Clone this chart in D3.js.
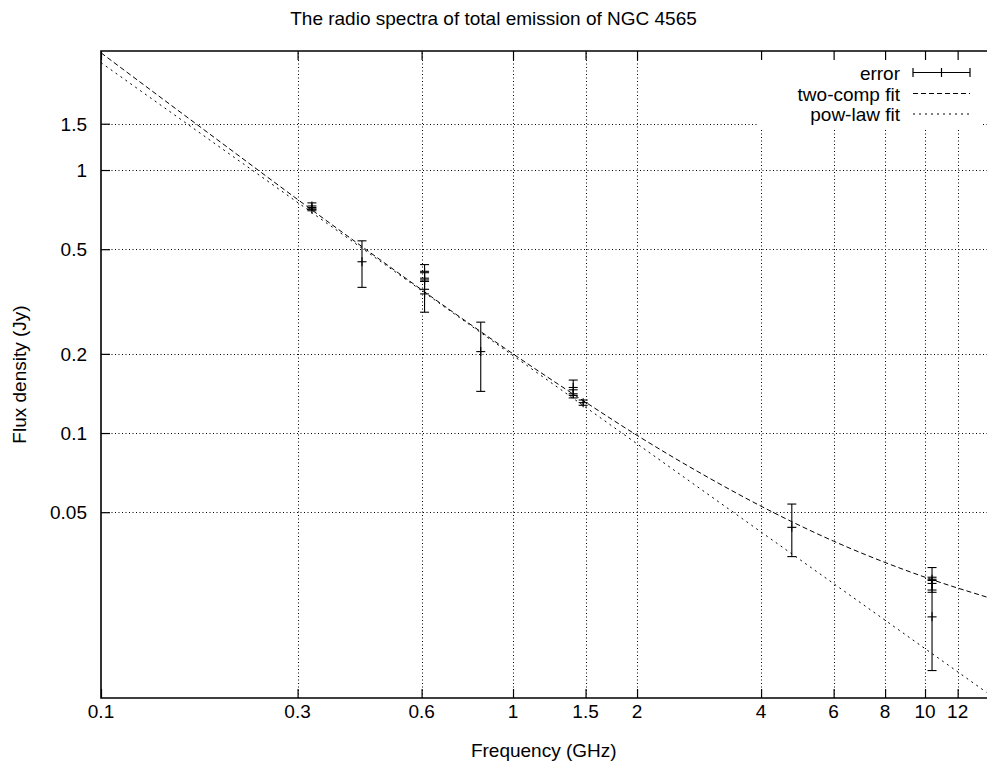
<!DOCTYPE html>
<html>
<head>
<meta charset="utf-8">
<script src="https://cdn.jsdelivr.net/npm/d3@7"></script>
<style>
  html, body { margin: 0; padding: 0; background: #fff; }
  svg { display: block; font-family: "Liberation Sans", Arial, Helvetica, sans-serif; }
</style>
</head>
<body>
<svg id="chart" width="987" height="768"></svg>
<script>
// ---- data ----
const title = "The radio spectra of total emission of NGC 4565";
const xLabel = "Frequency (GHz)";
const yLabel = "Flux density (Jy)";

const xTicks = [0.1, 0.3, 0.6, 1, 1.5, 2, 4, 6, 8, 10, 12];
const xTickLabels = ["0.1", "0.3", "0.6", "1", "1.5", "2", "4", "6", "8", "10", "12"];
const yTicks = [1.5, 1, 0.5, 0.2, 0.1, 0.05];
const yTickLabels = ["1.5", "1", "0.5", "0.2", "0.1", "0.05"];

// measured points with errors
const obsFreq = [0.325, 0.325, 0.43, 0.61, 0.61, 0.61, 0.835, 1.40, 1.40, 1.48, 4.75, 10.4, 10.4, 10.4];
const obsFlux = [0.73, 0.71, 0.448, 0.407, 0.382, 0.338, 0.204, 0.149, 0.141, 0.1305, 0.0438, 0.0278, 0.0268, 0.020];
const obsErr  = [0.02, 0.01, 0.09, 0.03, 0.03, 0.05, 0.06, 0.01, 0.005, 0.003, 0.0099, 0.003, 0.0015, 0.0075];

// two-component fit curve
const twoCompFreq = [0.1, 0.2, 0.3, 0.5, 0.7, 1, 1.5, 2, 3, 4, 6, 8, 10, 14.1];
const twoCompFlux = [2.79, 1.24, 0.773, 0.431, 0.295, 0.2, 0.131, 0.098, 0.0673, 0.0527, 0.0388, 0.0322, 0.0283, 0.0238];

// power-law fit (straight line in log-log, read at ends and middle)
const powFreq = [0.1, 1, 14.1];
const powFlux = [2.56, 0.197, 0.01033];

const legendLabels = ["error", "two-comp fit", "pow-law fit"];

// ---- layout ----
const svg = d3.select("#chart");
const L = 101, T = 51, B = 698, R = 986.5;
const FS = 19;

const x = d3.scaleLog().domain([0.1, 14.1]).range([L, R]);
const y = d3.scaleLog().domain([0.00983, 2.835]).range([B, T]);

// clip
svg.append("defs").append("clipPath").attr("id", "plotclip")
  .append("rect").attr("x", L).attr("y", T).attr("width", 987 - L).attr("height", B - T);

// grid
const grid = svg.append("g").attr("stroke", "#000").attr("stroke-width", 1)
  .attr("stroke-dasharray", "1,2.5").attr("fill", "none");
xTicks.filter(v => v > 0.1).forEach(v => {
  grid.append("line").attr("x1", Math.round(x(v)) + 0.5).attr("x2", Math.round(x(v)) + 0.5)
    .attr("y1", B).attr("y2", T);
});
yTicks.forEach(v => {
  grid.append("line").attr("y1", Math.round(y(v)) + 0.5).attr("y2", Math.round(y(v)) + 0.5)
    .attr("x1", L).attr("x2", 987);
});

// legend box area erases grid
svg.append("rect").attr("x", 757).attr("y", T + 2).attr("width", 226).attr("height", 75)
  .attr("fill", "#fff");

// axes ticks via d3 axes (inward ticks, labels separate)
const axisBottom = d3.axisBottom(x).tickValues(xTicks).tickSize(-9).tickFormat("");
const axisTop = d3.axisTop(x).tickValues(xTicks).tickSize(-9).tickFormat("");
const axisLeft = d3.axisLeft(y).tickValues(yTicks).tickSize(-9).tickFormat("");
const gb = svg.append("g").attr("transform", `translate(0,${B})`).call(axisBottom);
const gt = svg.append("g").attr("transform", `translate(0,${T})`).call(axisTop);
const gl = svg.append("g").attr("transform", `translate(${L},0)`).call(axisLeft);
[gb, gt, gl].forEach(g => {
  g.select(".domain").remove();
  g.selectAll(".tick line").attr("stroke", "#000").attr("stroke-width", 1.2);
});

// tick labels
svg.append("g").selectAll("text").data(xTicks).join("text")
  .attr("x", d => x(d)).attr("y", B + 20)
  .attr("text-anchor", "middle").attr("font-size", FS)
  .text((d, i) => xTickLabels[i]);
svg.append("g").selectAll("text").data(yTicks).join("text")
  .attr("x", L - 14).attr("y", d => y(d) + 7)
  .attr("text-anchor", "end").attr("font-size", FS)
  .text((d, i) => yTickLabels[i]);

// frame
svg.append("path")
  .attr("d", `M${R + 10},${T}H${L}V${B}H${R + 10}`)
  .attr("fill", "none").attr("stroke", "#000").attr("stroke-width", 1.6);

// curves
const plot = svg.append("g").attr("clip-path", "url(#plotclip)");
const twoData = twoCompFreq.map((f, i) => [f, twoCompFlux[i]]);
const powData = powFreq.map((f, i) => [f, powFlux[i]]);
const lineMono = d3.line().x(d => x(d[0])).y(d => y(d[1])).curve(d3.curveMonotoneX);
const lineLin = d3.line().x(d => x(d[0])).y(d => y(d[1]));
plot.append("path").attr("d", lineMono(twoData)).attr("fill", "none")
  .attr("stroke", "#000").attr("stroke-width", 1).attr("stroke-dasharray", "5,3");
plot.append("path").attr("d", lineLin(powData)).attr("fill", "none")
  .attr("stroke", "#000").attr("stroke-width", 1).attr("stroke-dasharray", "2,4");

// error bars
const obs = obsFreq.map((f, i) => ({ f, s: obsFlux[i], e: obsErr[i] }));
const eb = plot.append("g").attr("stroke", "#000").attr("stroke-width", 1.1);
const cap = 4.5;
obs.forEach(d => {
  const cx = x(d.f);
  const y1 = y(d.s + d.e), y0 = y(d.s - d.e), yc = y(d.s);
  eb.append("line").attr("x1", cx).attr("x2", cx).attr("y1", y1).attr("y2", y0);
  eb.append("line").attr("x1", cx - cap).attr("x2", cx + cap).attr("y1", y1).attr("y2", y1);
  eb.append("line").attr("x1", cx - cap).attr("x2", cx + cap).attr("y1", y0).attr("y2", y0);
  // '+' marker
  eb.append("line").attr("x1", cx - cap).attr("x2", cx + cap).attr("y1", yc).attr("y2", yc);
  eb.append("line").attr("x1", cx).attr("x2", cx).attr("y1", yc - cap).attr("y2", yc + cap);
});

// legend
const lg = svg.append("g");
const rowsY = [72.5, 93.5, 114];
const sx0 = 913, sx1 = 970;
legendLabels.forEach((t, i) => {
  lg.append("text").attr("x", 900).attr("y", rowsY[i] + 7)
    .attr("text-anchor", "end").attr("font-size", FS).text(t);
});
// error sample
lg.append("line").attr("x1", sx0).attr("x2", sx1).attr("y1", rowsY[0]).attr("y2", rowsY[0])
  .attr("stroke", "#000").attr("stroke-width", 1.2);
[sx0, (sx0 + sx1) / 2, sx1].forEach(px => {
  lg.append("line").attr("x1", px).attr("x2", px).attr("y1", rowsY[0] - 4.5).attr("y2", rowsY[0] + 4.5)
    .attr("stroke", "#000").attr("stroke-width", 1.2);
});
lg.append("line").attr("x1", sx0).attr("x2", sx1).attr("y1", rowsY[1]).attr("y2", rowsY[1])
  .attr("stroke", "#000").attr("stroke-width", 1).attr("stroke-dasharray", "5,3");
lg.append("line").attr("x1", sx0).attr("x2", sx1).attr("y1", rowsY[2]).attr("y2", rowsY[2])
  .attr("stroke", "#000").attr("stroke-width", 1).attr("stroke-dasharray", "2,4");

// titles
svg.append("text").attr("x", 493.5).attr("y", 25).attr("text-anchor", "middle")
  .attr("font-size", FS).text(title);
svg.append("text").attr("x", (L + R) / 2).attr("y", 757).attr("text-anchor", "middle")
  .attr("font-size", FS).text(xLabel);
svg.append("text").attr("transform", `translate(26,${(T + B) / 2}) rotate(-90)`)
  .attr("text-anchor", "middle").attr("font-size", FS).text(yLabel);
</script>
</body>
</html>
